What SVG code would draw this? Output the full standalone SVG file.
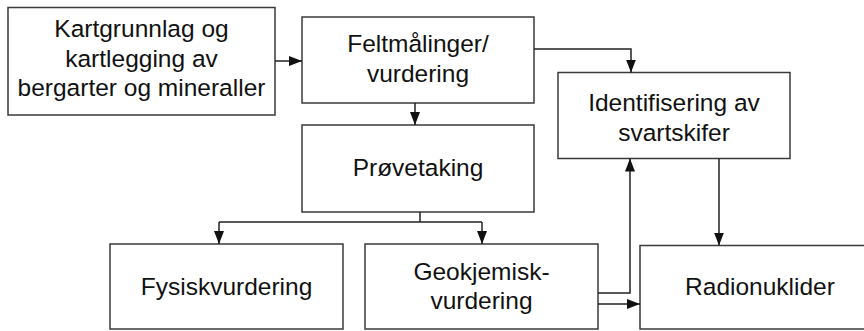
<svg xmlns="http://www.w3.org/2000/svg" width="864" height="331" viewBox="0 0 864 331">
<style>
.box{fill:#fff;stroke:#3a3a3a;stroke-width:1.5}
.t{font-family:"Liberation Sans",Arial,sans-serif;font-size:24.5px;fill:#111;text-anchor:middle}
.c{fill:none;stroke:#222;stroke-width:1.5}
</style>
<defs>
<marker id="ah" markerUnits="userSpaceOnUse" markerWidth="13" markerHeight="10" refX="13" refY="5" orient="auto">
<path d="M0,0 L13,5 L0,10 z" fill="#111"/>
</marker>
</defs>
<rect width="864" height="331" fill="#fff"/>
<g id="n1"><rect class="box" x="8" y="7.5" width="267" height="107.5"/>
<text class="t" x="141.5" y="37">Kartgrunnlag og</text>
<text class="t" x="141.5" y="66.5">kartlegging av</text>
<text class="t" x="141.5" y="96">bergarter og mineraller</text></g>
<g id="n2"><rect class="box" x="302" y="17" width="232" height="86"/>
<text class="t" x="418" y="51.5">Feltmålinger/</text>
<text class="t" x="418" y="81.5">vurdering</text></g>
<g id="n3"><rect class="box" x="302" y="125" width="232" height="87"/>
<text class="t" x="418" y="176">Prøvetaking</text></g>
<g id="n4"><rect class="box" x="558" y="72.5" width="232" height="86"/>
<text class="t" x="674" y="111">Identifisering av</text>
<text class="t" x="674" y="141">svartskifer</text></g>
<g id="n5"><rect class="box" x="110" y="244" width="233" height="85"/>
<text class="t" x="226.5" y="295">Fysiskvurdering</text></g>
<g id="n6"><rect class="box" x="365" y="244" width="233" height="85"/>
<text class="t" x="481.5" y="279.5">Geokjemisk-</text>
<text class="t" x="481.5" y="309">vurdering</text></g>
<g id="n7"><rect class="box" x="640" y="245.5" width="240" height="83.5"/>
<text class="t" x="760" y="295">Radionuklider</text></g>
<g id="connectors">
<path class="c" d="M275,61 H302" marker-end="url(#ah)"/>
<path class="c" d="M534,49 H631 V72.5" marker-end="url(#ah)"/>
<path class="c" d="M415,103 V125" marker-end="url(#ah)"/>
<path class="c" d="M420,212 V222"/>
<path class="c" d="M219,222 H482"/>
<path class="c" d="M219,222 V244" marker-end="url(#ah)"/>
<path class="c" d="M482,222 V244" marker-end="url(#ah)"/>
<path class="c" d="M598,293 H630 V158.5" marker-end="url(#ah)"/>
<path class="c" d="M598,304 H640" marker-end="url(#ah)"/>
<path class="c" d="M719,158.5 V245.5" marker-end="url(#ah)"/>
</g>
</svg>
